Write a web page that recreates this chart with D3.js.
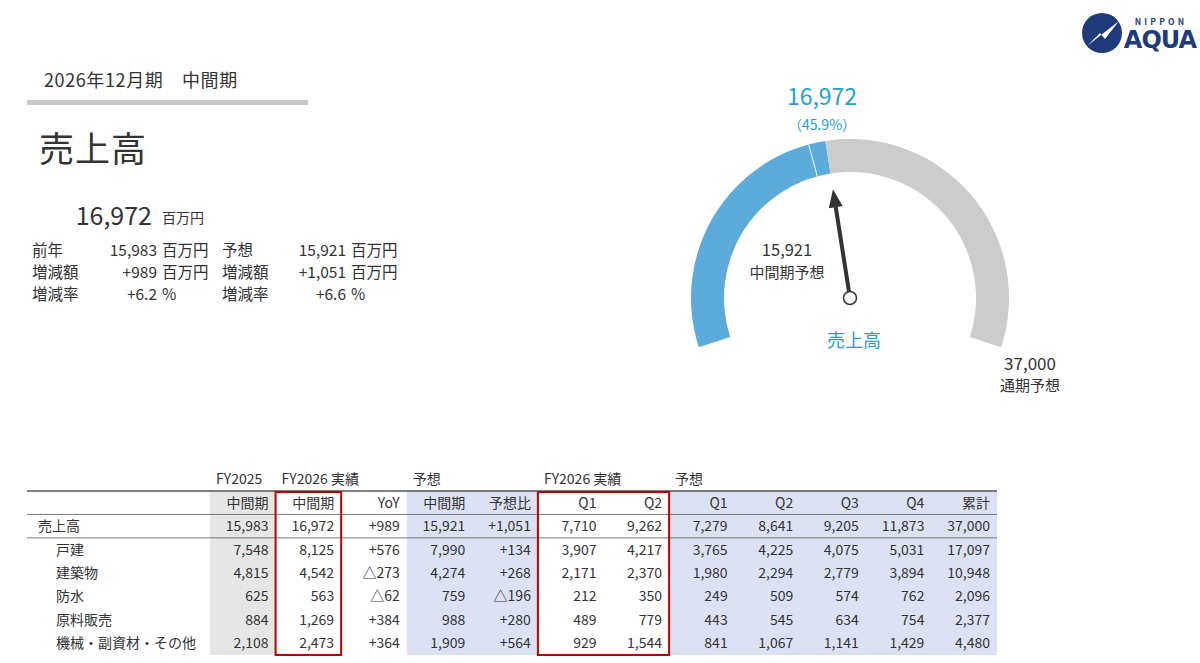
<!DOCTYPE html>
<html>
<head>
<meta charset="utf-8">
<script src="https://cdn.jsdelivr.net/npm/d3@7"></script>
<style>
  body { margin: 0; background: #fff; }
  svg { font-family: "Noto Sans CJK JP", "Noto Sans", sans-serif; }
</style>
</head>
<body>
<script>
// ---- data ----
var period = "2026年12月期　中間期";
var title = "売上高";
var actual = 16972;
var planHalf = 15921;
var planYear = 37000;
var prevHalf = 15983;

var summaryLeft = [["前年", "15,983", "百万円"], ["増減額", "+989", "百万円"], ["増減率", "+6.2", "%"]];
var summaryRight = [["予想", "15,921", "百万円"], ["増減額", "+1,051", "百万円"], ["増減率", "+6.6", "%"]];

var rowLabels = ["売上高", "戸建", "建築物", "防水", "原料販売", "機械・副資材・その他"];
var colHeaders = ["中間期", "中間期", "YoY", "中間期", "予想比", "Q1", "Q2", "Q1", "Q2", "Q3", "Q4", "累計"];
var groupLabels = ["FY2025", "FY2026 実績", "予想", "FY2026 実績", "予想"];
var groupCols = [0, 1, 3, 5, 7];

var fy2025H1 = [15983, 7548, 4815, 625, 884, 2108];
var fy2026H1 = [16972, 8125, 4542, 563, 1269, 2473];
var yoy = [989, 576, -273, -62, 384, 364];
var planH1 = [15921, 7990, 4274, 759, 988, 1909];
var vsPlan = [1051, 134, 268, -196, 280, 564];
var actQ1 = [7710, 3907, 2171, 212, 489, 929];
var actQ2 = [9262, 4217, 2370, 350, 779, 1544];
var planQ1 = [7279, 3765, 1980, 249, 443, 841];
var planQ2 = [8641, 4225, 2294, 509, 545, 1067];
var planQ3 = [9205, 4075, 2779, 574, 634, 1141];
var planQ4 = [11873, 5031, 3894, 762, 754, 1429];
var planFY = [37000, 17097, 10948, 2096, 2377, 4480];

var columns = [fy2025H1, fy2026H1, yoy, planH1, vsPlan, actQ1, actQ2, planQ1, planQ2, planQ3, planQ4, planFY];
var signedCols = [2, 4];

var W = 1200, H = 663;
var txt = "#333";
var blueTxt = "#22a0d4";

var svg = d3.select("body").append("svg")
  .attr("width", W).attr("height", H);

// ---- logo ----
var logo = svg.append("g").attr("transform", "translate(1102,33)");
logo.append("circle").attr("r", 20).attr("fill", "#1f3b7c");
logo.append("path")
  .attr("d", "M-15,13 L17,-12 L3,6 L-2,0 Z")
  .attr("fill", "#fff");
svg.append("text").attr("x", 1161).attr("y", 25).attr("text-anchor", "middle")
  .attr("font-size", 8.5).attr("font-weight", "bold").attr("letter-spacing", 3.2)
  .attr("fill", "#1f3b7c").text("NIPPON");
svg.append("text").attr("x", 1160).attr("y", 48).attr("text-anchor", "middle")
  .attr("font-size", 24).attr("font-weight", "900").attr("font-family", "DejaVu Sans")
  .attr("letter-spacing", -1).attr("fill", "#1f3b7c").text("AQUA");

// ---- left header ----
svg.append("text").attr("x", 44).attr("y", 87).attr("font-size", 18)
  .attr("letter-spacing", 0.6).attr("fill", txt).text(period);
svg.append("rect").attr("x", 27).attr("y", 100).attr("width", 281).attr("height", 5)
  .attr("fill", "#c8c8c8");
svg.append("text").attr("x", 39).attr("y", 162).attr("font-size", 35)
  .attr("letter-spacing", 1).attr("fill", txt).text(title);
svg.append("text").attr("x", 152).attr("y", 225).attr("text-anchor", "end")
  .attr("font-size", 25).attr("fill", txt).text(d3.format(",")(actual));
svg.append("text").attr("x", 162).attr("y", 223).attr("font-size", 14)
  .attr("fill", txt).text("百万円");

function summary(rows, xLabel, xVal, xUnit) {
  var g = svg.append("g");
  rows.forEach(function(r, i) {
    var y = 256 + i * 22;
    g.append("text").attr("x", xLabel).attr("y", y).attr("font-size", 15.5).attr("fill", txt).text(r[0]);
    g.append("text").attr("x", xVal).attr("y", y).attr("text-anchor", "end").attr("font-size", 15.5).attr("fill", txt).text(r[1]);
    g.append("text").attr("x", xUnit).attr("y", y).attr("font-size", 15.5).attr("fill", txt).text(r[2]);
  });
}
summary(summaryLeft, 32, 157, 162);
summary(summaryRight, 222, 346, 351);

// ---- gauge ----
var cx = 850, cy = 298, rOut = 159, rIn = 126;
var maxAng = 108 * Math.PI / 180;
var ang = d3.scaleLinear().domain([0, planYear]).range([-maxAng, maxAng]);
var arc = d3.arc().innerRadius(rIn).outerRadius(rOut);
var gauge = svg.append("g").attr("transform", "translate(" + cx + "," + cy + ")");

var segs = [
  { a: 0, b: actual, c: "#5dabdb" },
  { a: actual, b: planYear, c: "#cccccc" }
];
gauge.selectAll("path.seg").data(segs).enter().append("path")
  .attr("class", "seg")
  .attr("d", function(d) { return arc({ startAngle: ang(d.a), endAngle: ang(d.b) }); })
  .attr("fill", function(d) { return d.c; });

// white tick at half-year plan
var pa = ang(planHalf);
gauge.append("line")
  .attr("x1", rIn * Math.sin(pa)).attr("y1", -rIn * Math.cos(pa))
  .attr("x2", rOut * Math.sin(pa)).attr("y2", -rOut * Math.cos(pa))
  .attr("stroke", "#fff").attr("stroke-width", 1);

// needle
var needle = gauge.append("g")
  .attr("transform", "rotate(" + (ang(actual) * 180 / Math.PI) + ")");
needle.append("line").attr("x1", 0).attr("y1", 0).attr("x2", 0).attr("y2", -94)
  .attr("stroke", "#333").attr("stroke-width", 4);
needle.append("path").attr("d", "M0,-110 L-7,-92 L7,-92 Z").attr("fill", "#333");
gauge.append("circle").attr("r", 6.5).attr("fill", "#fff")
  .attr("stroke", "#333").attr("stroke-width", 1.5);

// gauge labels
svg.append("text").attr("x", 822).attr("y", 105).attr("text-anchor", "middle")
  .attr("font-size", 23).attr("fill", blueTxt).text(d3.format(",")(actual));
svg.append("text").attr("x", 822).attr("y", 130).attr("text-anchor", "middle")
  .attr("font-size", 14).attr("fill", blueTxt)
  .text("（" + d3.format(".1%")(actual / planYear) + "）");
svg.append("text").attr("x", 787).attr("y", 256).attr("text-anchor", "middle")
  .attr("font-size", 16.5).attr("fill", txt).text(d3.format(",")(planHalf));
svg.append("text").attr("x", 787).attr("y", 278).attr("text-anchor", "middle")
  .attr("font-size", 15).attr("fill", txt).text("中間期予想");
svg.append("text").attr("x", 854).attr("y", 347).attr("text-anchor", "middle")
  .attr("font-size", 18).attr("fill", blueTxt).text(title);
svg.append("text").attr("x", 1030).attr("y", 370).attr("text-anchor", "middle")
  .attr("font-size", 17).attr("fill", txt).text(d3.format(",")(planYear));
svg.append("text").attr("x", 1030).attr("y", 391).attr("text-anchor", "middle")
  .attr("font-size", 15).attr("fill", txt).text("通期予想");

// ---- table ----
var tLeft = 27, tTop = 491, tBottom = 655;
var xCol = d3.scaleBand().domain(d3.range(columns.length)).range([210, 997]);
var yRow = d3.scaleBand().domain(d3.range(rowLabels.length + 1)).range([tTop, tBottom]);
var cw = xCol.bandwidth(), rh = yRow.bandwidth();

var table = svg.append("g");

// shading
table.append("rect").attr("x", xCol(0)).attr("y", tTop).attr("width", cw).attr("height", tBottom - tTop)
  .attr("fill", "#e6e6e6");
table.append("rect").attr("x", xCol(3)).attr("y", tTop).attr("width", cw * 2).attr("height", tBottom - tTop)
  .attr("fill", "#dce2f4");
table.append("rect").attr("x", xCol(7)).attr("y", tTop).attr("width", cw * 5).attr("height", tBottom - tTop)
  .attr("fill", "#dce2f4");

// rules
table.append("line").attr("x1", tLeft).attr("x2", 997).attr("y1", tTop).attr("y2", tTop)
  .attr("stroke", "#555").attr("stroke-width", 1.5);
[1, 2].forEach(function(r) {
  table.append("line").attr("x1", tLeft).attr("x2", 997).attr("y1", yRow(r)).attr("y2", yRow(r))
    .attr("stroke", "#777").attr("stroke-width", 1);
});

// group headers
groupLabels.forEach(function(g, i) {
  table.append("text").attr("x", xCol(groupCols[i]) + 6).attr("y", 484)
    .attr("font-size", 14).attr("fill", txt).text(g);
});

// column headers
colHeaders.forEach(function(h, i) {
  table.append("text").attr("x", xCol(i) + cw - 7).attr("y", yRow(0) + rh / 2 + 5)
    .attr("text-anchor", "end").attr("font-size", 14).attr("fill", txt).text(h);
});

// row labels
rowLabels.forEach(function(l, i) {
  table.append("text").attr("x", i === 0 ? 38 : 56).attr("y", yRow(i + 1) + rh / 2 + 5)
    .attr("font-size", 14).attr("fill", txt).text(l);
});

var fmt = d3.format(",");
function fmtSigned(v) { return v < 0 ? "△" + fmt(-v) : "+" + fmt(v); }

columns.forEach(function(col, ci) {
  table.selectAll(null).data(col).enter().append("text")
    .attr("x", xCol(ci) + cw - 7)
    .attr("y", function(d, ri) { return yRow(ri + 1) + rh / 2 + 5; })
    .attr("text-anchor", "end").attr("font-size", 14).attr("fill", txt)
    .text(function(d) { return signedCols.indexOf(ci) >= 0 ? fmtSigned(d) : fmt(d); });
});

// red highlight boxes
[[1, 1], [5, 2]].forEach(function(b) {
  table.append("rect").attr("x", xCol(b[0])).attr("y", tTop + 1)
    .attr("width", cw * b[1]).attr("height", tBottom - tTop - 1)
    .attr("fill", "none").attr("stroke", "#c00000").attr("stroke-width", 2);
});
</script>
</body>
</html>
